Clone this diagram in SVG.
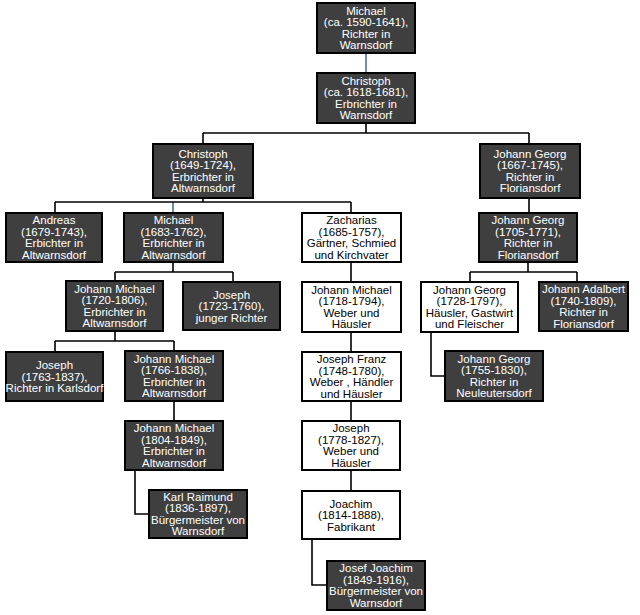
<svg xmlns="http://www.w3.org/2000/svg" width="640" height="615" viewBox="0 0 640 615">
<style>
.d rect{fill:#3f3f3f;stroke:#000;stroke-width:2}
.w rect{fill:#fff;stroke:#000;stroke-width:2}
text{font-family:"Liberation Sans",Arial,sans-serif;font-size:11.5px;text-anchor:middle}
.d text{fill:#fff}
.w text{fill:#000}
.c{fill:none;stroke:#000;stroke-width:1.6}
.b{fill:none;stroke:#4f6f9f;stroke-width:1.6}
</style>
<rect width="640" height="615" fill="#fff"/>
<g id="connectors">
<path class="b" d="M366 53V73M173 202V213"/>
<path class="c" d="M366 123V133M203 133H529M203 133V144M529 133V144M203 198V202M55 202H351M55 202V213M351 202V213M529 198V213M173 262V272M115 272H233M115 272V281M233 272V282M351 262V282M351 332V352M351 401V421M351 470V491M528 262V272M470 272H577M470 272V282M577 272V282M115 331V341M55 341H174M55 341V352M174 341V351M174 401V421M135 470V514H149M431 332V376H445M312 539V585H327"/>
</g>
<g id="n1" class="d"><rect x="317" y="3" width="98" height="50"/><text y="14.75"><tspan x="366">Michael</tspan><tspan x="366" dy="11.5">(ca. 1590-1641),</tspan><tspan x="366" dy="11.5">Richter in</tspan><tspan x="366" dy="11.5">Warnsdorf</tspan></text></g>
<g id="n2" class="d"><rect x="317" y="73" width="98" height="50"/><text y="84.75"><tspan x="366">Christoph</tspan><tspan x="366" dy="11.5">(ca. 1618-1681),</tspan><tspan x="366" dy="11.5">Erbrichter in</tspan><tspan x="366" dy="11.5">Warnsdorf</tspan></text></g>
<g id="n3" class="d"><rect x="153" y="144" width="100" height="54"/><text y="157.75"><tspan x="203">Christoph</tspan><tspan x="203" dy="11.5">(1649-1724),</tspan><tspan x="203" dy="11.5">Erbrichter in</tspan><tspan x="203" dy="11.5">Altwarnsdorf</tspan></text></g>
<g id="n4" class="d"><rect x="480" y="144" width="100" height="54"/><text y="157.75"><tspan x="530">Johann Georg</tspan><tspan x="530" dy="11.5">(1667-1745),</tspan><tspan x="530" dy="11.5">Richter in</tspan><tspan x="530" dy="11.5">Floriansdorf</tspan></text></g>
<g id="n5" class="d"><rect x="6" y="213" width="96" height="49"/><text y="224.25"><tspan x="54">Andreas</tspan><tspan x="54" dy="11.5">(1679-1743),</tspan><tspan x="54" dy="11.5">Erbichter in</tspan><tspan x="54" dy="11.5">Altwarnsdorf</tspan></text></g>
<g id="n6" class="d"><rect x="124" y="213" width="99" height="49"/><text y="224.25"><tspan x="173.5">Michael</tspan><tspan x="173.5" dy="11.5">(1683-1762),</tspan><tspan x="173.5" dy="11.5">Erbrichter in</tspan><tspan x="173.5" dy="11.5">Altwarnsdorf</tspan></text></g>
<g id="n7" class="w"><rect x="302" y="213" width="99" height="49"/><text y="224.25"><tspan x="351.5">Zacharias</tspan><tspan x="351.5" dy="11.5">(1685-1757),</tspan><tspan x="351.5" dy="11.5">Gärtner, Schmied</tspan><tspan x="351.5" dy="11.5">und Kirchvater</tspan></text></g>
<g id="n8" class="d"><rect x="479" y="213" width="98" height="49"/><text y="224.25"><tspan x="528">Johann Georg</tspan><tspan x="528" dy="11.5">(1705-1771),</tspan><tspan x="528" dy="11.5">Richter in</tspan><tspan x="528" dy="11.5">Floriansdorf</tspan></text></g>
<g id="n9" class="d"><rect x="66" y="281" width="97" height="50"/><text y="292.75"><tspan x="114.5">Johann Michael</tspan><tspan x="114.5" dy="11.5">(1720-1806),</tspan><tspan x="114.5" dy="11.5">Erbrichter in</tspan><tspan x="114.5" dy="11.5">Altwarnsdorf</tspan></text></g>
<g id="n10" class="d"><rect x="183" y="282" width="97" height="48"/><text y="298.5"><tspan x="231.5">Joseph</tspan><tspan x="231.5" dy="11.5">(1723-1760),</tspan><tspan x="231.5" dy="11.5">junger Richter</tspan></text></g>
<g id="n11" class="w"><rect x="302" y="282" width="99" height="50"/><text y="293.75"><tspan x="351.5">Johann Michael</tspan><tspan x="351.5" dy="11.5">(1718-1794),</tspan><tspan x="351.5" dy="11.5">Weber und</tspan><tspan x="351.5" dy="11.5">Häusler</tspan></text></g>
<g id="n12" class="w"><rect x="421" y="282" width="97" height="50"/><text y="293.75"><tspan x="469.5">Johann Georg</tspan><tspan x="469.5" dy="11.5">(1728-1797),</tspan><tspan x="469.5" dy="11.5">Häusler, Gastwirt</tspan><tspan x="469.5" dy="11.5">und Fleischer</tspan></text></g>
<g id="n13" class="d"><rect x="539" y="282" width="89" height="49"/><text y="293.25"><tspan x="583.5">Johann Adalbert</tspan><tspan x="583.5" dy="11.5">(1740-1809),</tspan><tspan x="583.5" dy="11.5">Richter in</tspan><tspan x="583.5" dy="11.5">Floriansdorf</tspan></text></g>
<g id="n14" class="d"><rect x="6" y="352" width="97" height="49"/><text y="369"><tspan x="54.5">Joseph</tspan><tspan x="54.5" dy="11.5">(1763-1837),</tspan><tspan x="54.5" dy="11.5">Richter in Karlsdorf</tspan></text></g>
<g id="n15" class="d"><rect x="125" y="351" width="98" height="50"/><text y="362.75"><tspan x="174">Johann Michael</tspan><tspan x="174" dy="11.5">(1766-1838),</tspan><tspan x="174" dy="11.5">Erbrichter in</tspan><tspan x="174" dy="11.5">Altwarnsdorf</tspan></text></g>
<g id="n16" class="w"><rect x="302" y="352" width="99" height="49"/><text y="363.25"><tspan x="351.5">Joseph Franz</tspan><tspan x="351.5" dy="11.5">(1748-1780),</tspan><tspan x="351.5" dy="11.5">Weber , Händler</tspan><tspan x="351.5" dy="11.5">und Häusler</tspan></text></g>
<g id="n17" class="d"><rect x="445" y="351" width="98" height="50"/><text y="362.75"><tspan x="494">Johann Georg</tspan><tspan x="494" dy="11.5">(1755-1830),</tspan><tspan x="494" dy="11.5">Richter in</tspan><tspan x="494" dy="11.5">Neuleutersdorf</tspan></text></g>
<g id="n18" class="d"><rect x="125" y="421" width="98" height="49"/><text y="432.25"><tspan x="174">Johann Michael</tspan><tspan x="174" dy="11.5">(1804-1849),</tspan><tspan x="174" dy="11.5">Erbrichter in</tspan><tspan x="174" dy="11.5">Altwarnsdorf</tspan></text></g>
<g id="n19" class="w"><rect x="302" y="421" width="98" height="49"/><text y="432.25"><tspan x="351">Joseph</tspan><tspan x="351" dy="11.5">(1778-1827),</tspan><tspan x="351" dy="11.5">Weber und</tspan><tspan x="351" dy="11.5">Häusler</tspan></text></g>
<g id="n20" class="w"><rect x="302" y="491" width="98" height="48"/><text y="507.5"><tspan x="351">Joachim</tspan><tspan x="351" dy="11.5">(1814-1888),</tspan><tspan x="351" dy="11.5">Fabrikant</tspan></text></g>
<g id="n21" class="d"><rect x="149" y="490" width="98" height="48"/><text y="500.75"><tspan x="198">Karl Raimund</tspan><tspan x="198" dy="11.5">(1836-1897),</tspan><tspan x="198" dy="11.5">Bürgermeister von</tspan><tspan x="198" dy="11.5">Warnsdorf</tspan></text></g>
<g id="n22" class="d"><rect x="327" y="561" width="98" height="49"/><text y="572.25"><tspan x="376">Josef Joachim</tspan><tspan x="376" dy="11.5">(1849-1916),</tspan><tspan x="376" dy="11.5">Bürgermeister von</tspan><tspan x="376" dy="11.5">Warnsdorf</tspan></text></g>
</svg>
